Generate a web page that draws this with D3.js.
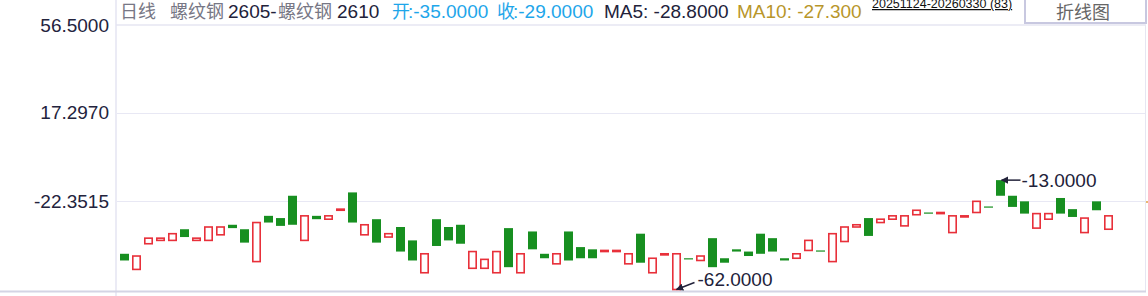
<!DOCTYPE html>
<html>
<head>
<meta charset="utf-8">
<script src="https://cdn.jsdelivr.net/npm/d3@7"></script>
<style>
body { margin: 0; background: #fff; }
</style>
</head>
<body>
<script>
// 日线 data: open / close per day (83 days)
const opens = [-46, -53, -41.5, -40, -40, -35, -40, -40, -37.5, -33,
  -35, -49.5, -29, -30, -20, -40, -29, -30.5, -26.5, -18.5,
  -37.5, -30.5, -38.5, -34, -40, -54.5, -30.5, -34, -33, -52.5,
  -52.5, -54.5, -34.5, -54.5, -36, -46, -50.5, -36, -43, -44,
  -45, -45, -50.5, -37, -54.5, -46.5, -62, -48, -49, -39,
  -48, -44, -45, -37, -39, -48, -48, -44.5, -44.5, -49.5,
  -40.5, -34, -30, -32, -30.5, -33.5, -28.5, -27.5, -28, -36.5,
  -29.5, -27.5, -24.8, -13, -20, -22.5, -34.5, -30.5, -21, -26,
  -36.5, -22.5, -35];
const closes = [-49, -47, -39, -39, -37, -38.5, -39, -34, -34, -34.5,
  -41, -32, -32, -33.5, -33, -29, -30.5, -29, -26, -32,
  -33, -41, -37, -45, -49, -46, -42.5, -40, -41.5, -45,
  -48.5, -45, -52, -46, -44, -48, -46, -49, -48, -48,
  -44.5, -44.5, -46, -50, -48, -46, -46, -48.5, -47, -52,
  -50, -45, -47, -46, -45, -49, -46, -40, -45, -37,
  -34, -33, -38, -30.5, -29, -29, -26.5, -28, -27.5, -29,
  -29, -22.5, -25.2, -20, -25, -28, -28, -28, -28, -29.5,
  -30, -26.5, -29];
const yTicks = [56.5, 17.297, -22.3515];

const W = 1148, H = 296;
const fmt = d3.formatLocale({ decimal: ".", thousands: ",", grouping: [3], currency: ["", ""], minus: "-" }).format(".4f");

const svg = d3.select("body").append("svg")
  .attr("width", W).attr("height", H)
  .style("font-family", "Arial, 'Liberation Sans', sans-serif");

const x = d3.scaleBand()
  .domain(d3.range(opens.length))
  .range([118.5, 1114.5])
  .paddingInner(0.25)
  .paddingOuter(0.125);

const y = d3.scaleLinear().domain([-62, 56.5]).range([289.5, 25]);

// 틀
svg.append("line").attr("x1", 116).attr("x2", 1146).attr("y1", 25).attr("y2", 25)
  .attr("stroke", "#e6e6f2").attr("stroke-width", 1.5);
svg.append("line").attr("x1", 116).attr("x2", 116).attr("y1", 0).attr("y2", H)
  .attr("stroke", "#e4e4f2").attr("stroke-width", 1.5);
svg.append("line").attr("x1", 1145.5).attr("x2", 1145.5).attr("y1", 25).attr("y2", 292)
  .attr("stroke", "#e6e6f2").attr("stroke-width", 1);
svg.append("line").attr("x1", 0).attr("x2", 1146).attr("y1", 291.5).attr("y2", 291.5)
  .attr("stroke", "#d4d4e4").attr("stroke-width", 2);

// grid
svg.selectAll(".grid").data(yTicks.slice(1)).enter().append("line")
  .attr("x1", 117).attr("x2", 1145)
  .attr("y1", d => Math.round(y(d)) + 0.5).attr("y2", d => Math.round(y(d)) + 0.5)
  .attr("stroke", "#e8e8f4").attr("stroke-width", 1);

// y axis labels
const yAxis = svg.append("g").attr("transform", "translate(112,0)")
  .call(d3.axisLeft(y).tickValues(yTicks).tickFormat(fmt).tickSize(0));
yAxis.select(".domain").remove();
yAxis.selectAll("text")
  .attr("font-size", 19).attr("fill", "#23233d")
  .attr("font-family", "Arial, 'Liberation Sans', sans-serif");

// candles
const candles = d3.range(opens.length).map(i => ({ i, o: opens[i], c: closes[i] }));
const down = candles.filter(d => d.c < d.o);
const up = candles.filter(d => d.c >= d.o);

svg.selectAll(".down").data(down).enter().append("rect")
  .attr("x", d => x(d.i))
  .attr("y", d => y(d.o))
  .attr("width", x.bandwidth())
  .attr("height", d => Math.max(1.2, y(d.c) - y(d.o)))
  .attr("fill", "#178f20");

svg.selectAll(".up").data(up).enter().append("rect")
  .attr("x", d => x(d.i) + 0.8)
  .attr("y", d => y(d.c))
  .attr("width", x.bandwidth() - 1.6)
  .attr("height", d => Math.max(0.3, y(d.o) - y(d.c)))
  .attr("fill", "none")
  .attr("stroke", "#e8303a")
  .attr("stroke-width", 1.6);

// 최고 / 최저 표시
const hi = d3.greatest(candles, d => Math.max(d.o, d.c));
const lo = d3.least(candles, d => Math.min(d.o, d.c));
const hiV = Math.max(hi.o, hi.c), loV = Math.min(lo.o, lo.c);
const hx = x(hi.i) + x.bandwidth() / 2, hy = y(hiV);
const lx = x(lo.i) + x.bandwidth() / 2, ly = y(loV);

svg.append("defs").append("marker")
  .attr("id", "arrow")
  .attr("viewBox", "0 -5 10 10")
  .attr("refX", 9).attr("refY", 0)
  .attr("markerWidth", 5).attr("markerHeight", 5)
  .attr("orient", "auto")
  .append("path").attr("d", "M0,-5L10,0L0,5").attr("fill", "#22223a");

svg.append("line").attr("x1", hx + 20).attr("y1", hy).attr("x2", hx + 1).attr("y2", hy)
  .attr("stroke", "#22223a").attr("stroke-width", 1.5).attr("marker-end", "url(#arrow)");
svg.append("text").attr("x", hx + 21).attr("y", hy + 7)
  .attr("font-size", 19).attr("fill", "#22223a").text(fmt(hiV));

svg.append("line").attr("x1", lx + 18).attr("y1", ly - 7).attr("x2", lx).attr("y2", ly)
  .attr("stroke", "#22223a").attr("stroke-width", 1.5).attr("marker-end", "url(#arrow)");
svg.append("text").attr("x", lx + 21).attr("y", ly - 4)
  .attr("font-size", 19).attr("fill", "#22223a").text(fmt(loV));

// 상단 제목
const cjk = "'Noto Sans CJK SC', sans-serif";
function head(tx, px, color, font) {
  svg.append("text").attr("x", px).attr("y", 18)
    .attr("font-size", font ? 18 : 19).attr("fill", color)
    .attr("font-family", font || "Arial, 'Liberation Sans', sans-serif")
    .text(tx);
}
head("日线", 120, "#777785", cjk);
head("螺纹钢", 170, "#777785", cjk);
head("2605-", 228, "#22223a");
head("螺纹钢", 278, "#777785", cjk);
head("2610", 337, "#22223a");
head("开", 392, "#1ea6ea", cjk);
head(":-35.0000", 408, "#1ea6ea");
head("收", 497, "#1ea6ea", cjk);
head(":-29.0000", 513, "#1ea6ea");
head("MA5: -28.8000", 604, "#22223a");
head("MA10: -27.300", 737, "#b8962a");

svg.append("text").attr("x", 872).attr("y", 8)
  .attr("font-size", 12.5).attr("fill", "#111")
  .attr("text-decoration", "underline")
  .text("20251124-20260330 (83)");

// 折线图 버튼
svg.append("rect").attr("x", 1025).attr("y", -2).attr("width", 121).attr("height", 25)
  .attr("fill", "#fff").attr("stroke", "#c8c8e0").attr("stroke-width", 2);
svg.append("text").attr("x", 1083).attr("y", 18.5)
  .attr("text-anchor", "middle").attr("font-size", 18)
  .attr("font-family", cjk).attr("fill", "#666")
  .text("折线图");

// 우측 작은 표시
svg.append("line").attr("x1", 1146).attr("x2", 1148).attr("y1", 202).attr("y2", 202)
  .attr("stroke", "#e0a040").attr("stroke-width", 1.5);
</script>
</body>
</html>
